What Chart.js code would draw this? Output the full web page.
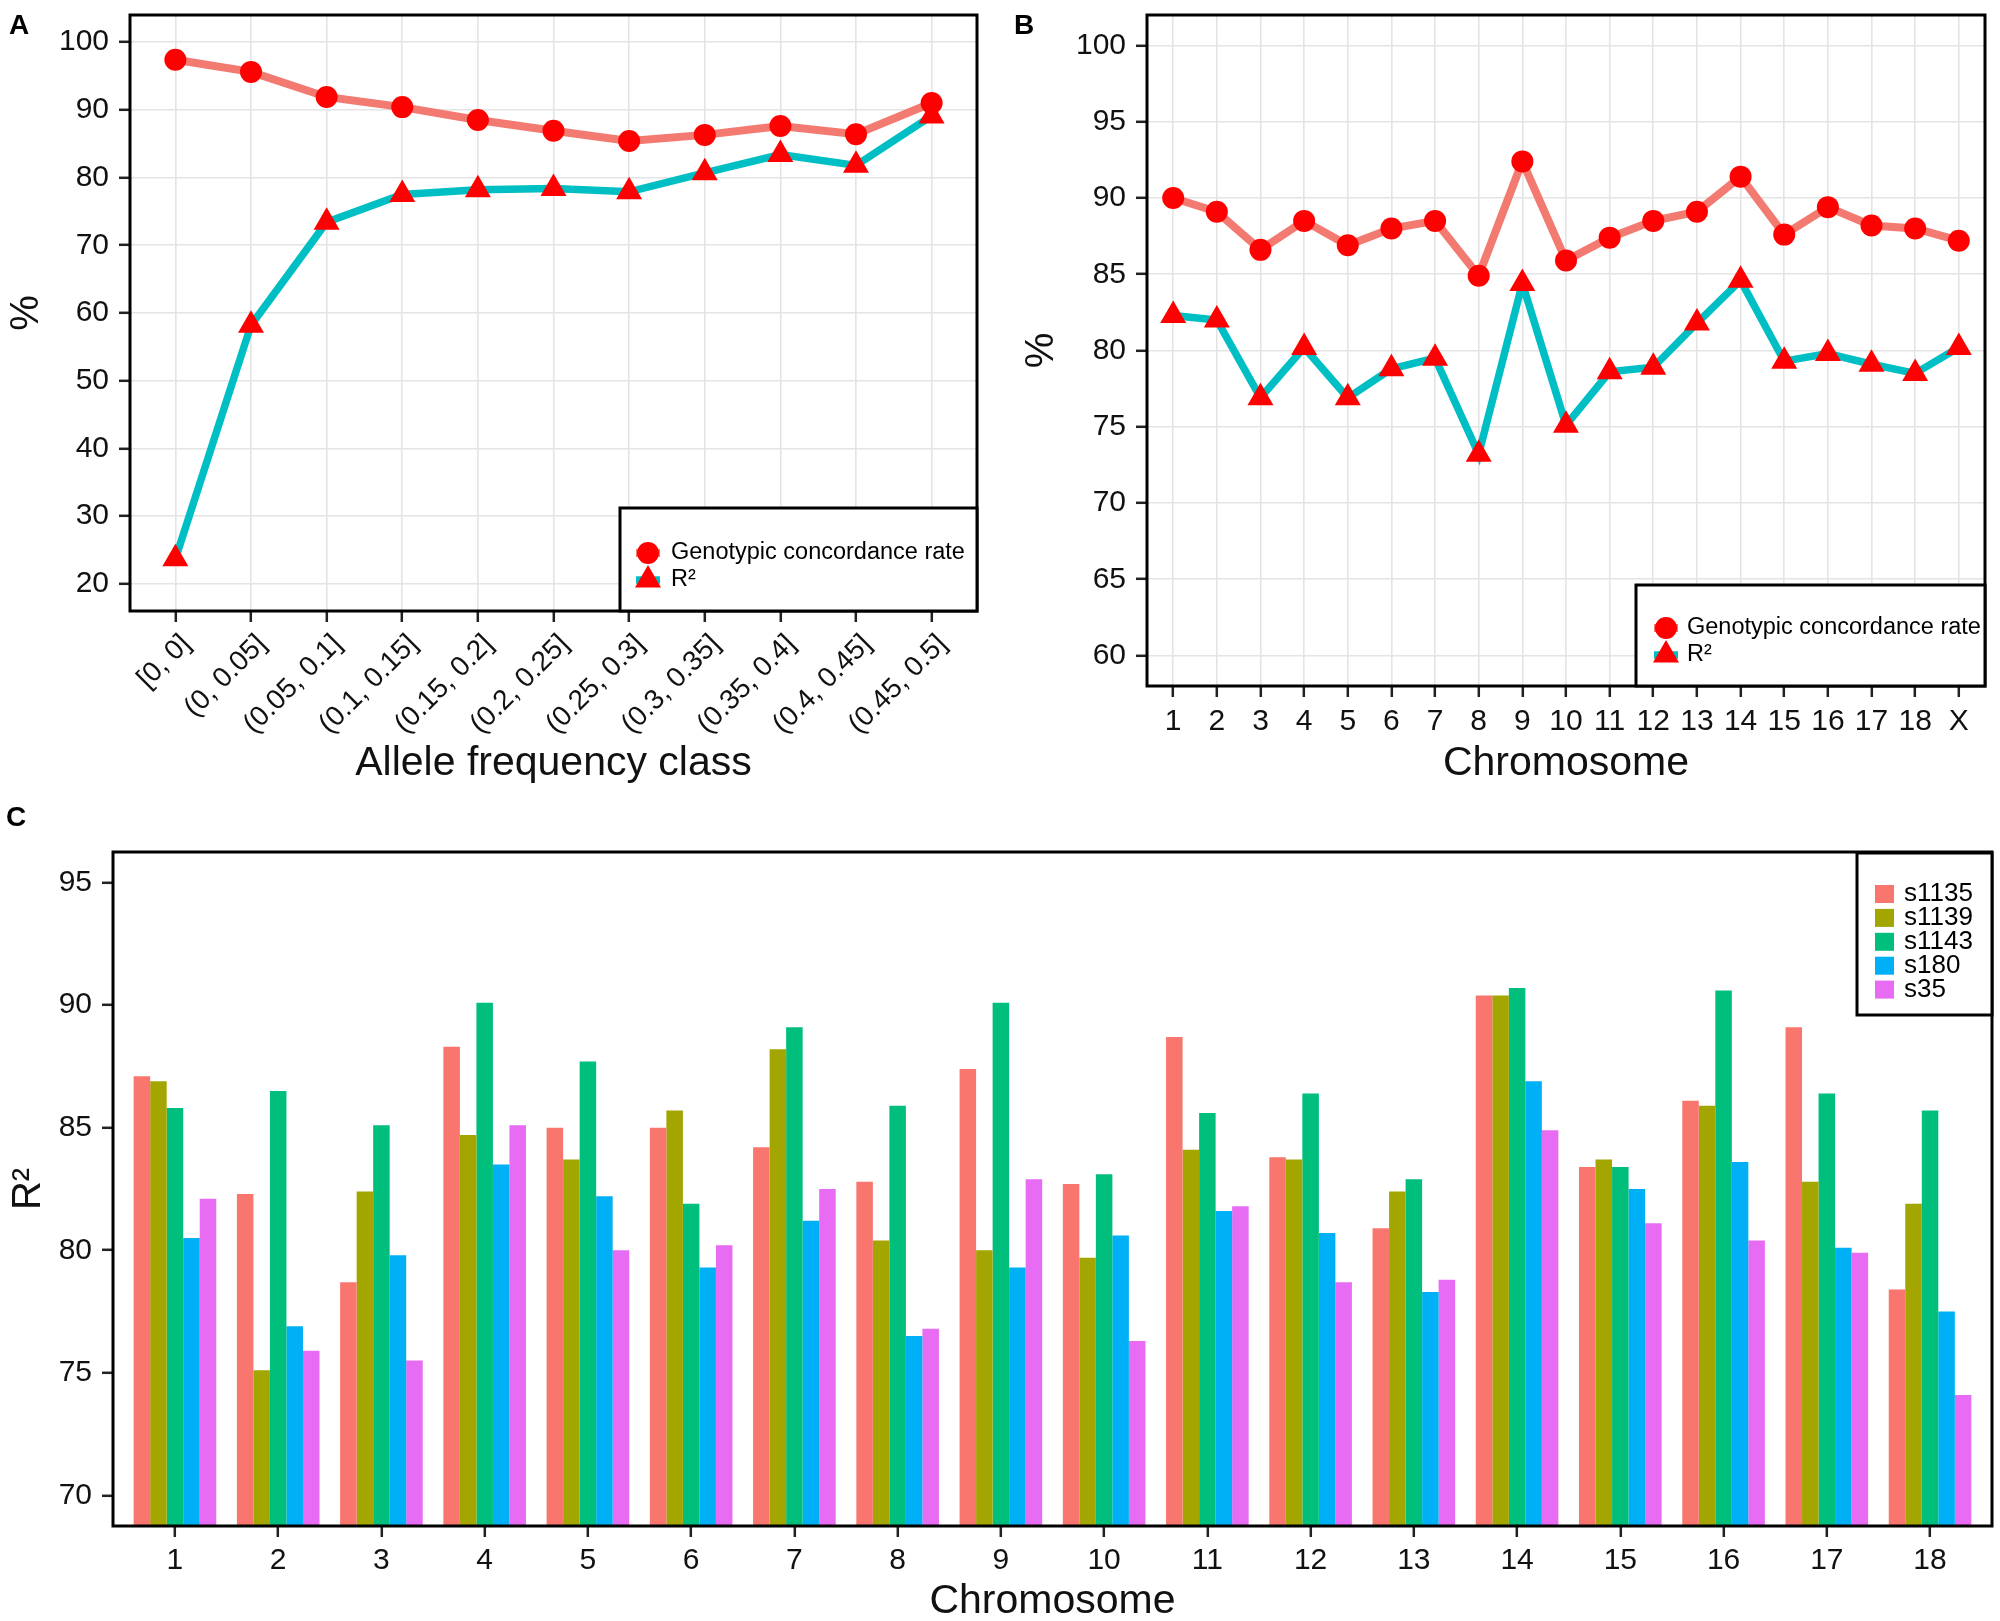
<!DOCTYPE html>
<html>
<head>
<meta charset="utf-8">
<script src="https://cdn.jsdelivr.net/npm/chart.js@4.4.0/dist/chart.umd.min.js"></script>
<style>
  body { margin: 0; background: #fff; width: 2000px; height: 1621px; overflow: hidden; position: relative; }
  canvas { position: absolute; }
  .tag { position: absolute; font-family: 'Liberation Sans', Arial, sans-serif; font-weight: bold; font-size: 28px; line-height: 28px; color: #000; }
</style>
</head>
<body>
<canvas id="chartA" width="1000" height="800" style="left:0;top:0"></canvas>
<canvas id="chartB" width="1000" height="800" style="left:1000px;top:0"></canvas>
<canvas id="chartC" width="2000" height="845" style="left:0;top:790px"></canvas>
<div class="tag" style="left:9px;top:11px">A</div>
<div class="tag" style="left:1014px;top:11px">B</div>
<div class="tag" style="left:6px;top:803px">C</div>
<script>
// panel A: allele frequency classes
const freqClasses = ['[0, 0]', '(0, 0.05]', '(0.05, 0.1]', '(0.1, 0.15]', '(0.15, 0.2]', '(0.2, 0.25]',
  '(0.25, 0.3]', '(0.3, 0.35]', '(0.35, 0.4]', '(0.4, 0.45]', '(0.45, 0.5]'];
const freqConcordance = [97.4, 95.6, 91.9, 90.4, 88.5, 86.9, 85.4, 86.3, 87.6, 86.4, 91.0];
const freqR2 = [23.7, 58.2, 73.4, 77.5, 78.2, 78.4, 77.9, 80.7, 83.4, 81.8, 89.1];
const ticksA = [20, 30, 40, 50, 60, 70, 80, 90, 100];

// panel B: by chromosome
const chromLabelsB = ['1', '2', '3', '4', '5', '6', '7', '8', '9', '10', '11', '12', '13', '14', '15', '16', '17', '18', 'X'];
const chromConcordance = [90.0, 89.1, 86.6, 88.5, 86.9, 88.0, 88.5, 84.9, 92.4, 85.9, 87.4, 88.5, 89.1, 91.4, 87.6, 89.4, 88.2, 88.0, 87.2];
const chromR2 = [82.3, 82.0, 76.9, 80.2, 76.9, 78.8, 79.5, 73.2, 84.4, 75.1, 78.6, 78.9, 81.8, 84.6, 79.3, 79.8, 79.1, 78.5, 80.2];
const ticksB = [60, 65, 70, 75, 80, 85, 90, 95, 100];

// panel C: R2 per sample and chromosome
const chromLabelsC = ['1', '2', '3', '4', '5', '6', '7', '8', '9', '10', '11', '12', '13', '14', '15', '16', '17', '18'];
const s1135 = [87.1, 82.3, 78.7, 88.3, 85.0, 85.0, 84.2, 82.8, 87.4, 82.7, 88.7, 83.8, 80.9, 90.4, 83.4, 86.1, 89.1, 78.4];
const s1139 = [86.9, 75.1, 82.4, 84.7, 83.7, 85.7, 88.2, 80.4, 80.0, 79.7, 84.1, 83.7, 82.4, 90.4, 83.7, 85.9, 82.8, 81.9];
const s1143 = [85.8, 86.5, 85.1, 90.1, 87.7, 81.9, 89.1, 85.9, 90.1, 83.1, 85.6, 86.4, 82.9, 90.7, 83.4, 90.6, 86.4, 85.7];
const s180 = [80.5, 76.9, 79.8, 83.5, 82.2, 79.3, 81.2, 76.5, 79.3, 80.6, 81.6, 80.7, 78.3, 86.9, 82.5, 83.6, 80.1, 77.5];
const s35 = [82.1, 75.9, 75.5, 85.1, 80.0, 80.2, 82.5, 76.8, 82.9, 76.3, 81.8, 78.7, 78.8, 84.9, 81.1, 80.4, 79.9, 74.1];
const ticksC = [70, 75, 80, 85, 90, 95];

const FONT = "'Liberation Sans', Arial, sans-serif";
const GRID = '#E4E4E4';
const TICK = '#222';
const POINT_RED = '#FF0000';

Chart.defaults.font.family = FONT;
Chart.defaults.color = '#111';
Chart.defaults.animation = false;

// black frame round the plot panel
const panelBox = {
  id: 'panelBox',
  afterDatasetsDraw(chart) {
    const { ctx, chartArea: a } = chart;
    ctx.save();
    ctx.strokeStyle = '#000';
    ctx.lineWidth = 3;
    ctx.strokeRect(a.left, a.top, a.right - a.left, a.bottom - a.top);
    ctx.restore();
  }
};

// ggplot-like boxed legend, drawn from the datasets
const boxLegend = {
  id: 'boxLegend',
  afterDraw(chart, args, o) {
    const { ctx, chartArea: a } = chart;
    const x0 = o.left, y0 = o.top, x1 = a.right, y1 = o.bottom || a.bottom;
    ctx.save();
    ctx.fillStyle = '#fff';
    ctx.fillRect(x0, y0, x1 - x0, y1 - y0);
    ctx.strokeStyle = '#000';
    ctx.lineWidth = 3;
    ctx.strokeRect(x0, y0, x1 - x0, y1 - y0);
    ctx.font = o.fontSize + 'px ' + FONT;
    ctx.textBaseline = 'middle';
    chart.data.datasets.forEach((ds, i) => {
      const cy = o.firstY + i * o.rowGap;
      if (o.kind === 'bar') {
        ctx.fillStyle = ds.backgroundColor;
        ctx.fillRect(o.keyX - 9.5, cy - 9, 19, 18);
      } else {
        ctx.strokeStyle = ds.borderColor;
        ctx.lineWidth = ds.borderWidth;
        ctx.beginPath();
        ctx.moveTo(o.keyX - 12, cy);
        ctx.lineTo(o.keyX + 12, cy);
        ctx.stroke();
        ctx.fillStyle = ds.pointBackgroundColor;
        Chart.helpers.drawPoint(ctx, { pointStyle: ds.pointStyle, radius: ds.pointRadius, borderWidth: 0, rotation: 0 }, o.keyX, cy);
      }
      ctx.fillStyle = '#000';
      ctx.fillText(ds.label, o.textX, cy);
    });
    ctx.restore();
  }
};

function lineSets(conc, r2) {
  return [
    {
      label: 'Genotypic concordance rate',
      data: conc.map((y, x) => ({ x, y })),
      borderColor: '#F37A71', borderWidth: 8,
      pointStyle: 'circle', pointRadius: 11,
      pointBackgroundColor: POINT_RED, pointBorderWidth: 0, tension: 0
    },
    {
      label: 'R²',
      data: r2.map((y, x) => ({ x, y })),
      borderColor: '#00BFC4', borderWidth: 7.5,
      pointStyle: 'triangle', pointRadius: 15,
      pointBackgroundColor: POINT_RED, pointBorderWidth: 0, tension: 0
    }
  ];
}

function gridOpts(onArea) {
  return { color: GRID, lineWidth: 1.6, drawOnChartArea: onArea, tickColor: TICK, tickWidth: 2.5, tickLength: 11, offset: false };
}

function lineChart(id, labels, conc, r2, yMin, yMax, yTicks, box, rotate, legend) {
  return new Chart(document.getElementById(id), {
    type: 'line',
    data: { datasets: lineSets(conc, r2) },
    options: {
      responsive: false,
      devicePixelRatio: 1,
      layout: { padding: { left: 0, top: box.top, right: box.right, bottom: 0 } },
      plugins: { legend: { display: false }, tooltip: { enabled: false }, boxLegend: legend },
      scales: {
        x: {
          type: 'linear', min: -0.6, max: labels.length - 0.4, offset: false,
          afterBuildTicks: s => { s.ticks = labels.map((_, i) => ({ value: i })); },
          ticks: { callback: v => labels[v], font: { size: rotate ? 28 : 30 }, autoSkip: false,
                   minRotation: rotate, maxRotation: rotate,
                   padding: rotate ? 6 : 7, labelOffset: rotate ? 11 : 0 },
          grid: gridOpts(true),
          border: { display: false },
          title: { display: true, text: box.xTitle, font: { size: 41 }, padding: { top: 0, bottom: 12 } },
          afterFit: s => { s.height = box.xHeight; s.paddingLeft = 0; s.paddingRight = 0; }
        },
        y: {
          type: 'linear', min: yMin, max: yMax,
          afterBuildTicks: s => { s.ticks = yTicks.map(v => ({ value: v })); },
          ticks: { font: { size: 30 }, padding: 10 },
          grid: gridOpts(true),
          border: { display: false },
          title: { display: true, text: '%', font: { size: 40 }, padding: { top: box.yTitlePad, bottom: 0 } },
          afterFit: s => { s.width = box.left; s.paddingTop = 0; s.paddingBottom = 0; }
        }
      }
    },
    plugins: [panelBox, boxLegend]
  });
}

lineChart('chartA', freqClasses, freqConcordance, freqR2, 16, 104, ticksA,
  { top: 13, right: 23, left: 130, xHeight: 189, xTitle: 'Allele frequency class', yTitlePad: 3 }, 45,
  { left: 620, top: 508, firstY: 553, rowGap: 27, keyX: 648, textX: 671, fontSize: 23.5 });

lineChart('chartB', chromLabelsB, chromConcordance, chromR2, 58, 102, ticksB,
  { top: 14, right: 8, left: 147, xHeight: 114, xTitle: 'Chromosome', yTitlePad: 18 }, 0,
  { left: 636, top: 585, firstY: 628, rowGap: 27, keyX: 666, textX: 687, fontSize: 23.5 });

const samples = [
  { label: 's1135', values: s1135, color: '#F8766D' },
  { label: 's1139', values: s1139, color: '#A3A500' },
  { label: 's1143', values: s1143, color: '#00BF7D' },
  { label: 's180', values: s180, color: '#00B0F6' },
  { label: 's35', values: s35, color: '#E76BF3' }
];

new Chart(document.getElementById('chartC'), {
  type: 'bar',
  data: {
    datasets: samples.map(s => ({
      label: s.label,
      data: s.values.map((y, x) => ({ x, y })),
      backgroundColor: s.color,
      borderWidth: 0,
      categoryPercentage: 0.8,
      barPercentage: 1.0
    }))
  },
  options: {
    responsive: false,
    devicePixelRatio: 1,
    layout: { padding: { left: 0, top: 62, right: 8, bottom: 0 } },
    plugins: {
      legend: { display: false }, tooltip: { enabled: false },
      boxLegend: { kind: 'bar', left: 1857, top: 63, bottom: 225, firstY: 104, rowGap: 23.9, keyX: 1884.5, textX: 1904, fontSize: 26 }
    },
    scales: {
      x: {
        type: 'linear', min: -0.6, max: chromLabelsC.length - 0.4, offset: false,
        afterBuildTicks: s => { s.ticks = chromLabelsC.map((_, i) => ({ value: i })); },
        ticks: { callback: v => chromLabelsC[v], font: { size: 30 }, autoSkip: false, maxRotation: 0, padding: 6 },
        grid: gridOpts(false),
        border: { display: false },
        title: { display: true, text: 'Chromosome', font: { size: 41 }, padding: { top: 0, bottom: 9 } },
        afterFit: s => { s.height = 109; s.paddingLeft = 0; s.paddingRight = 0; }
      },
      y: {
        type: 'linear', min: 68.75, max: 96.25,
        afterBuildTicks: s => { s.ticks = ticksC.map(v => ({ value: v })); },
        ticks: { font: { size: 30 }, padding: 10 },
        grid: gridOpts(false),
        border: { display: false },
        title: { display: true, text: 'R²', font: { size: 40 }, padding: { top: 5, bottom: 0 } },
        afterFit: s => { s.width = 113; s.paddingTop = 0; s.paddingBottom = 0; }
      }
    }
  },
  plugins: [panelBox, boxLegend]
});
</script>
</body>
</html>
